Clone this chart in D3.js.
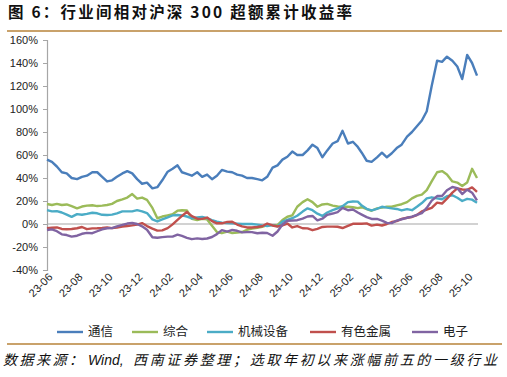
<!DOCTYPE html>
<html lang="zh">
<head>
<meta charset="utf-8">
<title>行业间相对沪深300超额累计收益率</title>
<script src="https://d3js.org/d3.v7.min.js"></script>
<style>
    body { margin: 0; background: #fff; }
    svg { display: block; }
    .axis text { font-family: "Liberation Sans", Arial, sans-serif; font-size: 11px; fill: #222; }
    .foot { font-family: "Noto Sans CJK SC", sans-serif; font-size: 14px; font-style: italic; fill: #111; }
</style>
</head>
<body>
<svg id="chart" width="507" height="377"></svg>
<script>
    // 系列名称与颜色
    const seriesNames = ["通信", "综合", "机械设备", "有色金属", "电子"];
    const seriesColors = ["#4A7EBB", "#9BBB59", "#4BACC6", "#C0504D", "#8064A2"];

    const tickLabels = ["23-06", "23-08", "23-10", "23-12", "24-02", "24-04", "24-06", "24-08",
        "24-10", "24-12", "25-02", "25-04", "25-06", "25-08", "25-10"];
    const yTicks = [-40, -20, 0, 20, 40, 60, 80, 100, 120, 140, 160];

    // 每月 1、11、21 日的读数 (%)
    const tongxin = [56, 54, 50, 45, 44, 40, 39, 41, 42, 45, 45, 41, 37, 38, 41, 44, 46, 44, 39, 35,
        36, 31, 32, 38, 45.5, 48, 51, 45, 43.5, 42, 45, 41, 43, 39, 42, 47, 45.5, 45, 43, 42,
        40, 40, 39, 38, 41, 49, 51, 56, 58.5, 63, 60, 60, 64, 69, 66, 58, 64, 70, 72, 81,
        70, 71.5, 67, 62, 55, 54, 58, 62, 58, 61.5, 66, 69, 76, 80, 85, 90, 98, 120, 142, 141,
        145.5, 142, 137, 126, 147, 140, 129];
    const zonghe = [17.4, 16.5, 17.5, 16.5, 17, 15.5, 13.6, 15.2, 16, 16.3, 15.6, 16, 16.5, 17.5, 20, 21.5, 23, 26, 22, 23,
        21, 14, 5, 6.5, 7.5, 8.5, 11.6, 12, 11.8, 4.5, 3.5, 4.5, 4, -1.5, -7, -8, -6.7, -7.8, -7.5, -7,
        -5, -4, -3.3, -2.5, -1, -1, -1, 3.5, 6.3, 7.5, 15, 19, 21.5, 19, 15, 17, 17.5, 16, 15.2, 15,
        15, 14.6, 13.8, 14.6, 13, 11.5, 13.6, 14.2, 15, 15, 16.2, 17.2, 19, 22.3, 24.5, 25.5, 29.5, 37, 45, 46,
        43, 37, 36, 33, 36, 48, 40];
    const jixie = [12, 11, 11.2, 10, 8.2, 6.2, 8.6, 8, 8.8, 9.8, 9.3, 8, 7.8, 8.2, 9.3, 11, 11, 11, 12, 11,
        9.5, 4, 2.2, 4, 5.8, 7.5, 7.8, 7.5, 6.5, 5, 5.8, 6.2, 5, 3.4, 2, 1.2, 0.8, 0.6, 0.3, 0,
        0, 0, -0.5, -1.2, -1.7, -1, -2, 2, 3.6, 5, 7.2, 10.8, 13.6, 12, 9, 7, 10, 12, 13.5, 15.5,
        19, 19.6, 19.5, 16, 13.2, 11.8, 13.2, 15, 14.2, 13.6, 13.1, 11.8, 13, 12, 15, 18.2, 22.3, 23.2, 22.3, 21.5,
        24.2, 25, 22.8, 20, 21.9, 21.2, 18.5];
    const youse = [-3.7, -3.2, -3, -4.3, -4.6, -4.4, -3.7, -2.6, -4.5, -3.8, -3.7, -3.5, -3, -3.6, -3, -2.2, -1.7, -1.2, -0.5, 0.8,
        -1.8, -4, -5.8, -5.5, -3.6, -0.3, 3.5, 7, 10.5, 6.8, 4.6, 4.5, 5.6, 2.5, 0.6, 0.6, 1.8, 2, -0.5, -2,
        -3, -3, -2.6, -2, 0.4, -1.3, -2.2, -1.3, 0.4, -3, -1.8, -3.7, -3.8, -5.4, -4.2, -2.6, -2.3, -2.3, -2.4, -3.5,
        -1.6, 0.2, 0.3, 0.2, 0.5, -1.4, -0.6, -1.3, 0, 1.7, 2.5, 4.4, 5.4, 6.1, 7.8, 11, 12.6, 14, 18.6, 17.8,
        22, 27.3, 31, 30, 29.8, 31.8, 28];
    const dianzi = [-5.2, -4.7, -6.2, -9, -9.6, -11, -10.2, -8.5, -7.7, -8, -6.3, -4.6, -3.7, -3.6, -2, -0.8, 0.4, 0.9, 0, -2,
        -5, -11.5, -12, -11.4, -11, -11, -9.3, -10.4, -12, -13.2, -12.5, -13, -12.6, -11.3, -8.8, -5.3, -6.6, -5.2, -5.9, -7.3,
        -7.1, -7.1, -8, -7.6, -7.8, -10.2, -6.5, -0.5, 2.8, 3, 3.3, 4.6, 6.5, 7, 3.2, 4.6, 8, 9.1, 10.3, 14,
        12, 12.6, 10, 8.2, 6, 4.4, 4.4, 3, 1, 0.8, 3, 4.1, 5.4, 6.4, 7.9, 9.5, 14, 20.3, 24.3, 24.3,
        29.3, 32.2, 31.2, 26, 29.9, 27.2, 20.5];

    const allSeries = [tongxin, zonghe, jixie, youse, dianzi];

    // 日期：2023-06 至 2025-10，每月 1、11、21 日
    const dates = [];
    d3.timeMonths(new Date(2023, 5, 1), new Date(2025, 10, 1)).forEach(m => {
        [1, 11, 21].forEach(day => dates.push(new Date(m.getFullYear(), m.getMonth(), day)));
    });

    const svg = d3.select("#chart");
    const parseTick = d3.timeParse("%y-%m");

    const x = d3.scaleTime()
        .domain([dates[0], dates[dates.length - 1]])
        .range([47, 477]);

    const y = d3.scaleLinear()
        .domain([-40, 160])
        .range([270, 40]);

    // 标题
    svg.append("text")
        .attr("x", 8)
        .attr("y", 18)
        .attr("textLength", 344)
        .attr("lengthAdjust", "spacing")
        .style("font-family", "'Noto Sans CJK SC', sans-serif")
        .style("font-size", "15.5px")
        .style("font-weight", "bold")
        .style("fill", "#111")
        .text("图 6：行业间相对沪深 300 超额累计收益率");

    svg.append("line")
        .attr("x1", 7).attr("x2", 502)
        .attr("y1", 31).attr("y2", 31)
        .attr("stroke", "#C9A26B")
        .attr("stroke-width", 2);

    // y 轴
    const yAxis = svg.append("g")
        .attr("class", "axis")
        .attr("transform", "translate(47,0)")
        .call(d3.axisLeft(y).tickValues(yTicks).tickSize(4).tickPadding(5).tickFormat(d => d + "%"));
    yAxis.select(".domain").attr("stroke", "#A6A6A6").attr("stroke-width", 1.2);
    yAxis.selectAll(".tick line").attr("stroke", "#A6A6A6");

    // 0 线
    svg.append("line")
        .attr("x1", 47).attr("x2", 478)
        .attr("y1", y(0)).attr("y2", y(0))
        .attr("stroke", "#A6A6A6")
        .attr("stroke-width", 1.2);

    // x 轴标签
    const xAxis = svg.append("g")
        .attr("class", "axis")
        .attr("transform", "translate(0,272)")
        .call(d3.axisBottom(x)
            .tickValues(tickLabels.map(parseTick))
            .tickSize(0)
            .tickFormat(d3.timeFormat("%y-%m")));
    xAxis.select(".domain").remove();
    xAxis.selectAll(".tick text")
        .attr("y", 0)
        .attr("text-anchor", "end")
        .attr("dy", "0.35em")
        .attr("transform", "translate(3,3) rotate(-45)");

    // 折线
    const line = d3.line()
        .x((d, i) => x(dates[i]))
        .y(d => y(d));

    svg.selectAll("path.series")
        .data(allSeries)
        .enter()
        .append("path")
        .attr("class", "series")
        .attr("d", d => line(d))
        .attr("fill", "none")
        .attr("stroke", (d, i) => seriesColors[i])
        .attr("stroke-width", 2.4)
        .attr("stroke-linejoin", "round");

    // 图例
    const legendX = [57, 132, 207, 310, 412];
    const legend = svg.selectAll("g.legend")
        .data(seriesNames)
        .enter()
        .append("g")
        .attr("class", "legend")
        .attr("transform", (d, i) => `translate(${legendX[i]},332)`);
    legend.append("line")
        .attr("x1", 0).attr("x2", 26)
        .attr("stroke", (d, i) => seriesColors[i])
        .attr("stroke-width", 2.4);
    legend.append("text")
        .attr("x", 31)
        .attr("dy", "0.35em")
        .style("font-family", "'Noto Sans CJK SC', sans-serif")
        .style("font-size", "12.5px")
        .style("fill", "#222")
        .text(d => d);

    svg.append("line")
        .attr("x1", 7).attr("x2", 502)
        .attr("y1", 344).attr("y2", 344)
        .attr("stroke", "#C9A26B")
        .attr("stroke-width", 2);

    // 来源
    svg.append("text").attr("class", "foot")
        .attr("x", 3).attr("y", 365)
        .attr("textLength", 80).attr("lengthAdjust", "spacing")
        .text("数据来源：");
    svg.append("text").attr("class", "foot")
        .attr("x", 88).attr("y", 365)
        .style("font-family", "'Liberation Sans', Arial, sans-serif")
        .text("Wind,");
    svg.append("text").attr("class", "foot")
        .attr("x", 133).attr("y", 365)
        .attr("textLength", 364).attr("lengthAdjust", "spacing")
        .text("西南证券整理；选取年初以来涨幅前五的一级行业");
</script>
</body>
</html>
